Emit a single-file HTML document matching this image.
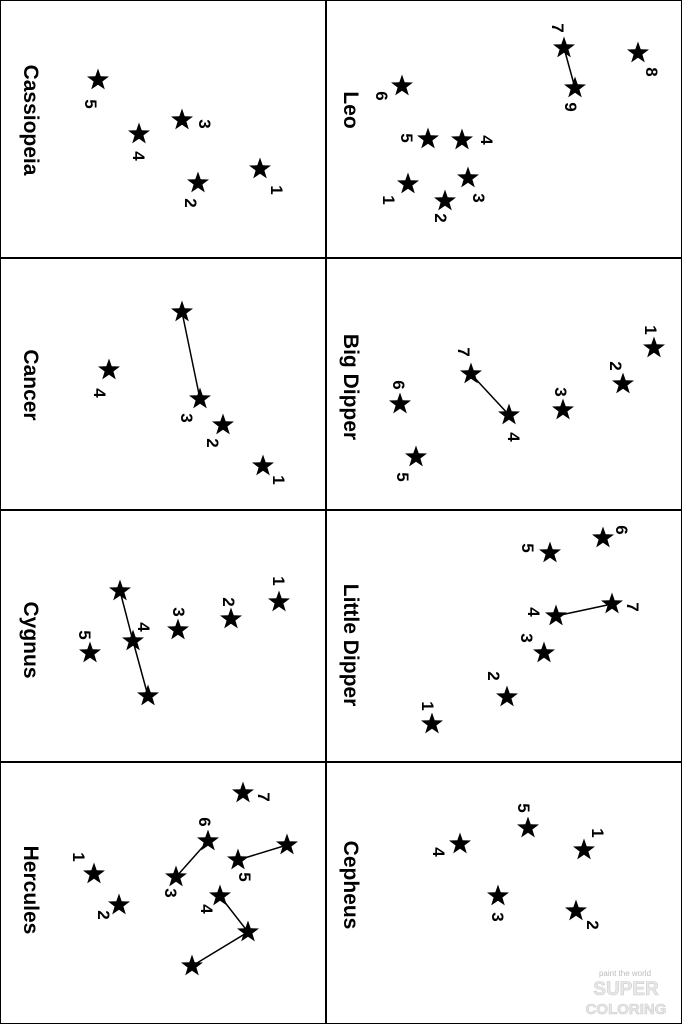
<!DOCTYPE html>
<html><head><meta charset="utf-8"><style>
html,body{margin:0;padding:0;background:#fff}
svg{display:block}
.l{font-family:"Liberation Sans",sans-serif;font-weight:bold;font-size:21px;fill:#000}
.n{font-family:"Liberation Sans",sans-serif;font-weight:bold;font-size:17px;fill:#000}
</style></head><body>
<svg width="682" height="1024" viewBox="0 0 682 1024" xmlns="http://www.w3.org/2000/svg">
<defs>
<polygon id="s" points="0,-11.5 2.7,-3.7 11,-3.5 4.4,1.5 6.8,9.4 0,4.7 -6.8,9.4 -4.4,1.5 -11,-3.5 -2.7,-3.7" fill="#000"/>
</defs>
<rect x="0.5" y="0.5" width="681" height="1023" fill="#fff" stroke="#000" stroke-width="1"/>
<g stroke="#000" stroke-width="2">
<line x1="326" y1="0" x2="326" y2="1024"/>
<line x1="0" y1="258" x2="682" y2="258"/>
<line x1="0" y1="510" x2="682" y2="510"/>
<line x1="0" y1="762" x2="682" y2="762"/>
</g>
<g stroke="#000" stroke-width="1.5">
<line x1="564" y1="48" x2="575" y2="88"/>
<line x1="182" y1="312" x2="200" y2="399"/>
<line x1="471" y1="374" x2="509" y2="415"/>
<polyline points="120,591 133,641 148,696" fill="none"/>
<line x1="612" y1="604" x2="556" y2="616"/>
<line x1="287" y1="845" x2="238" y2="860"/>
<line x1="208" y1="841" x2="176" y2="877"/>
<polyline points="220,896 248,932 192,966" fill="none"/>
</g>
<g>
<use href="#s" x="98" y="80"/><use href="#s" x="139" y="134"/><use href="#s" x="182" y="120"/><use href="#s" x="198" y="183"/><use href="#s" x="260" y="169"/>
<use href="#s" x="564" y="48"/><use href="#s" x="638" y="53"/><use href="#s" x="575" y="88"/><use href="#s" x="402" y="86"/><use href="#s" x="428" y="139"/><use href="#s" x="462" y="140"/><use href="#s" x="468" y="178"/><use href="#s" x="445" y="201"/><use href="#s" x="408" y="184"/>
<use href="#s" x="182" y="312"/><use href="#s" x="109" y="370"/><use href="#s" x="200" y="399"/><use href="#s" x="223" y="425"/><use href="#s" x="263" y="466"/>
<use href="#s" x="654" y="348"/><use href="#s" x="623" y="384"/><use href="#s" x="563" y="410"/><use href="#s" x="471" y="374"/><use href="#s" x="509" y="415"/><use href="#s" x="400" y="404"/><use href="#s" x="416" y="457"/>
<use href="#s" x="279" y="602"/><use href="#s" x="231" y="619"/><use href="#s" x="178" y="630"/><use href="#s" x="133" y="641"/><use href="#s" x="90" y="653"/><use href="#s" x="120" y="591"/><use href="#s" x="148" y="696"/>
<use href="#s" x="603" y="538"/><use href="#s" x="550" y="553"/><use href="#s" x="612" y="604"/><use href="#s" x="556" y="616"/><use href="#s" x="544" y="653"/><use href="#s" x="507" y="697"/><use href="#s" x="432" y="724"/>
<use href="#s" x="243" y="793"/><use href="#s" x="208" y="841"/><use href="#s" x="238" y="860"/><use href="#s" x="287" y="845"/><use href="#s" x="176" y="877"/><use href="#s" x="220" y="896"/><use href="#s" x="248" y="932"/><use href="#s" x="192" y="966"/><use href="#s" x="94" y="874"/><use href="#s" x="119" y="905"/>
<use href="#s" x="528" y="828"/><use href="#s" x="584" y="850"/><use href="#s" x="460" y="844"/><use href="#s" x="498" y="896"/><use href="#s" x="576" y="911"/>
</g>
<text class="l" transform="translate(24,120) rotate(90)" text-anchor="middle">Cassiopeia</text>
<text class="l" transform="translate(344,110) rotate(90)" text-anchor="middle">Leo</text>
<text class="l" transform="translate(24,385) rotate(90)" text-anchor="middle">Cancer</text>
<text class="l" transform="translate(344,387) rotate(90)" text-anchor="middle">Big Dipper</text>
<text class="l" transform="translate(24,640) rotate(90)" text-anchor="middle">Cygnus</text>
<text class="l" transform="translate(344,645) rotate(90)" text-anchor="middle">Little Dipper</text>
<text class="l" transform="translate(24,890) rotate(90)" text-anchor="middle">Hercules</text>
<text class="l" transform="translate(344,885) rotate(90)" text-anchor="middle">Cepheus</text>
<g class="n" text-anchor="middle">
<text transform="translate(85,104) rotate(90)">5</text>
<text transform="translate(133,156) rotate(90)">4</text>
<text transform="translate(199,124) rotate(90)">3</text>
<text transform="translate(185,203) rotate(90)">2</text>
<text transform="translate(271,190) rotate(90)">1</text>
<text transform="translate(552,28) rotate(90)">7</text>
<text transform="translate(646,72) rotate(90)">8</text>
<text transform="translate(565,107) rotate(90)">9</text>
<text transform="translate(376,96) rotate(90)">6</text>
<text transform="translate(401,138) rotate(90)">5</text>
<text transform="translate(481,140) rotate(90)">4</text>
<text transform="translate(473,198) rotate(90)">3</text>
<text transform="translate(435,218) rotate(90)">2</text>
<text transform="translate(383,200) rotate(90)">1</text>
<text transform="translate(94,393) rotate(90)">4</text>
<text transform="translate(181,418) rotate(90)">3</text>
<text transform="translate(207,443) rotate(90)">2</text>
<text transform="translate(273,480) rotate(90)">1</text>
<text transform="translate(645,330) rotate(90)">1</text>
<text transform="translate(610,366) rotate(90)">2</text>
<text transform="translate(555,392) rotate(90)">3</text>
<text transform="translate(458,352) rotate(90)">7</text>
<text transform="translate(508,437) rotate(90)">4</text>
<text transform="translate(393,385) rotate(90)">6</text>
<text transform="translate(397,477) rotate(90)">5</text>
<text transform="translate(273,581) rotate(90)">1</text>
<text transform="translate(223,602) rotate(90)">2</text>
<text transform="translate(173,612) rotate(90)">3</text>
<text transform="translate(138,627) rotate(90)">4</text>
<text transform="translate(79,635) rotate(90)">5</text>
<text transform="translate(616,530) rotate(90)">6</text>
<text transform="translate(522,548) rotate(90)">5</text>
<text transform="translate(627,607) rotate(90)">7</text>
<text transform="translate(528,612) rotate(90)">4</text>
<text transform="translate(521,638) rotate(90)">3</text>
<text transform="translate(488,676) rotate(90)">2</text>
<text transform="translate(422,706) rotate(90)">1</text>
<text transform="translate(258,797) rotate(90)">7</text>
<text transform="translate(199,822) rotate(90)">6</text>
<text transform="translate(239,877) rotate(90)">5</text>
<text transform="translate(165,893) rotate(90)">3</text>
<text transform="translate(201,909) rotate(90)">4</text>
<text transform="translate(73,857) rotate(90)">1</text>
<text transform="translate(98,915) rotate(90)">2</text>
<text transform="translate(518,808) rotate(90)">5</text>
<text transform="translate(592,833) rotate(90)">1</text>
<text transform="translate(433,852) rotate(90)">4</text>
<text transform="translate(492,917) rotate(90)">3</text>
<text transform="translate(587,925) rotate(90)">2</text>
</g>
<text x="625" y="976" text-anchor="middle" font-family="Liberation Sans,sans-serif" font-size="8" fill="#bbb">paint the world</text>
<text x="626" y="995" text-anchor="middle" font-family="Liberation Sans,sans-serif" font-weight="bold" font-size="19" fill="#e8e8e8" stroke="#ccc" stroke-width="0.6">SUPER</text>
<text x="626" y="1014" text-anchor="middle" font-family="Liberation Sans,sans-serif" font-weight="bold" font-size="15" fill="#e8e8e8" stroke="#ccc" stroke-width="0.6">COLORING</text>
</svg>
</body></html>
